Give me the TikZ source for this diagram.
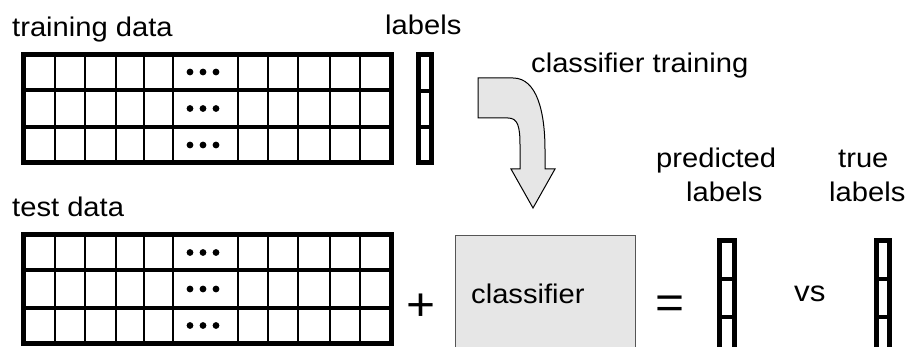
\documentclass[tikz,border=0pt]{standalone}
\usepackage{fontspec}
\setmainfont[FakeStretch=1.08]{Liberation Sans}
\definecolor{boxgray}{HTML}{E6E6E6}
\definecolor{edgegray}{HTML}{555555}
\tikzset{
  lbl/.style={anchor=base west, inner sep=0pt, font=\fontsize{27}{32}\selectfont},
  sym/.style={inner sep=0pt, font=\fontsize{46}{50}\selectfont},
  outerline/.style={line width=5pt},
  rowline/.style={line width=4pt},
  colline/.style={line width=1.8pt},
  dotmark/.style={fill=black},
}
\newcommand\mydatagrid[1]{%
  \begin{scope}[shift={(0,#1)}]
    \foreach \cx in {55,85,116,144,173,238,268,298,330,360}
      \draw[colline] (\cx,0) -- (\cx,108.5);
    \foreach \ry in {35.5,72.5}
      \draw[rowline] (23,\ry) -- (391,\ry);
    \draw[outerline] (23,0) rectangle (391,108.5);
    \foreach \ry in {17.5,54,90.5}
      \foreach \dx in {190,203,216}
        \fill[dotmark] (\dx,\ry) circle (3.4);
  \end{scope}}
\newcommand\mylabelcol[4]{% x left, x right, top, bottom
  \draw[rowline] (#1,{#3+(#4-#3)/3}) -- (#2,{#3+(#4-#3)/3});
  \draw[rowline] (#1,{#3+2*(#4-#3)/3}) -- (#2,{#3+2*(#4-#3)/3});
  \draw[outerline] (#1,#3) rectangle (#2,#4);}
\begin{document}
\begin{tikzpicture}[x=1pt,y=-1pt]
\useasboundingbox (0,0) rectangle (907,347);
% texts
\node[lbl] (trainlbl) at (12,37) {training data};
\node[lbl] (labelslbl) at (385,35) {labels};
\node[lbl] (cltrain) at (531,73) {classifier training};
\node[lbl] (testlbl) at (12,217) {test data};
\node[lbl] (pred1) at (656,168) {predicted};
\node[lbl] (pred2) at (686,202) {labels};
\node[lbl] (true1) at (838,168) {true};
\node[lbl] (true2) at (829,202) {labels};
% grids
\mydatagrid{54.5}
\mydatagrid{235}
% label columns
\mylabelcol{418}{431}{54.5}{163}
\mylabelcol{719.5}{734}{241}{355}
\mylabelcol{876.5}{889}{241}{355}
% curved arrow
\draw[fill=boxgray, line width=1pt, line join=miter]
  (478,78) -- (513,78) .. controls (537,78) and (545,112) .. (545,150)
  -- (545,169) -- (555,169) -- (533,208) -- (511,169) -- (520,169)
  -- (520,145) .. controls (520,127) and (518,118) .. (508,118)
  -- (478,118) -- cycle;
% classifier box
\node[draw=edgegray, fill=boxgray, line width=1pt, minimum width=180pt,
      minimum height=115pt, inner sep=0pt, anchor=north west] (clf) at (455,235) {};
\node[lbl] (clftext) at (471,303) {classifier};
% operators
\node[sym] (plus) at (421,307) {+};
\node[sym] (eq) at (670,307) {=};
\node[lbl, font=\fontsize{29}{32}\selectfont] (vs) at (794,301) {vs};
\end{tikzpicture}
\end{document}
